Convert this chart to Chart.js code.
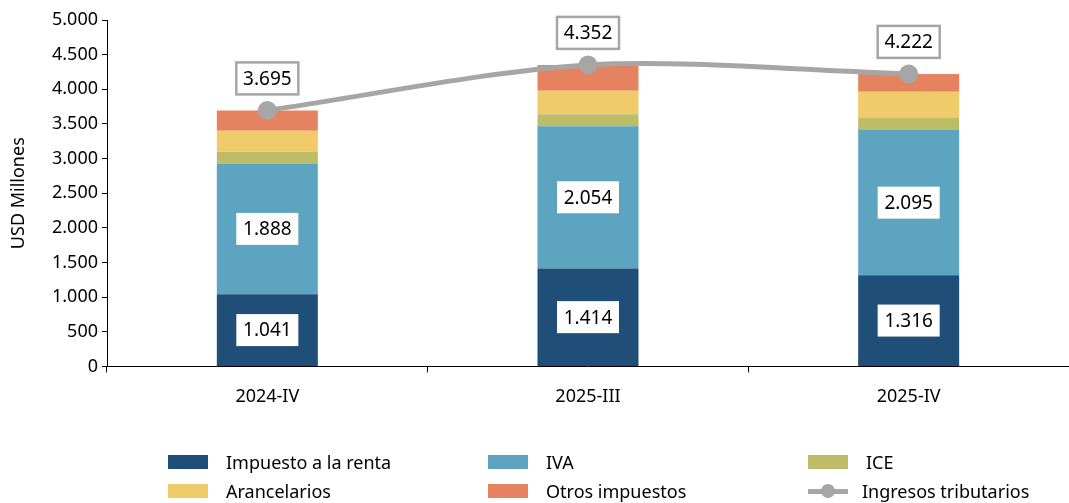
<!DOCTYPE html>
<html>
<head>
<meta charset="utf-8">
<script src="https://cdn.jsdelivr.net/npm/chart.js@4.4.1/dist/chart.umd.min.js"></script>
<style>
  body { margin: 0; background: #fff; }
  #wrap { position: relative; width: 1069px; height: 503px; }
  #legend { position: absolute; left: 0; top: 0; width: 1069px; height: 503px; pointer-events: none;
    font-family: "Noto Sans", sans-serif; font-size: 18px; color: #000; }
  .item { position: absolute; display: flex; align-items: center; }
  .sw { width: 40px; height: 14px; margin-right: 18px; }
  .ln { width: 40px; height: 5px; margin-right: 14px; position: relative; background: #A6A6A6; }
  .ln::after { content: ''; position: absolute; left: 13px; top: -5px; width: 14px; height: 14px; border-radius: 50%; background: #A6A6A6; }
</style>
</head>
<body>
<div id="wrap">
  <canvas id="grafico"></canvas>
  <div id="legend"></div>
</div>
<script>
const categorias = ['2024-IV', '2025-III', '2025-IV']
const renta = [1041, 1414, 1316]
const iva = [1888, 2054, 2095]
const ice = [168, 173, 173]
const arancelarios = [303, 337, 380]
const otros = [295, 374, 258]
const ingresos = [3695, 4352, 4222]
const yTicks = ['0', '500', '1.000', '1.500', '2.000', '2.500', '3.000', '3.500', '4.000', '4.500', '5.000']

const colores = {
  renta: '#1F4E79',
  iva: '#5DA4C1',
  ice: '#BDBD68',
  arancel: '#F0CB69',
  otros: '#E5825F',
  linea: '#A6A6A6'
}

function fmt(v) {
  return String(v).replace(/\B(?=(\d{3})+(?!\d))/g, '.')
}

// etiquetas en cajas blancas
const etiquetas = {
  id: 'etiquetas',
  afterDatasetsDraw(chart) {
    const c = chart.ctx
    c.save()
    c.font = '19px "Noto Sans", sans-serif'
    c.textAlign = 'center'
    c.textBaseline = 'middle'
    chart.data.datasets.forEach((ds, i) => {
      if (!ds.etiqueta) return
      const meta = chart.getDatasetMeta(i)
      meta.data.forEach((el, j) => {
        const txt = fmt(ds.data[j])
        let x = el.x, y
        if (ds.type === 'line') {
          y = el.y - 32
        } else {
          y = (el.y + el.base) / 2
        }
        const w = 62, h = 32
        c.fillStyle = '#fff'
        c.fillRect(x - w / 2, y - h / 2, w, h)
        if (ds.type === 'line') {
          c.strokeStyle = '#A6A6A6'
          c.lineWidth = 2.5
          c.strokeRect(x - w / 2, y - h / 2, w, h)
        }
        c.fillStyle = '#000'
        c.fillText(txt, x, y + 1)
      })
    })
    c.restore()
  }
}

Chart.defaults.font.family = '"Noto Sans", sans-serif'
Chart.defaults.font.size = 17
Chart.defaults.color = '#000'

const data = {
  labels: categorias,
  datasets: [
    { type: 'line', label: 'Ingresos tributarios', data: ingresos, stack: 'total', order: 0,
      borderColor: colores.linea, backgroundColor: colores.linea, borderWidth: 5,
      pointRadius: 7, pointHoverRadius: 7, tension: 0.3, fill: false, etiqueta: true },
    { type: 'bar', label: 'Impuesto a la renta', data: renta, backgroundColor: colores.renta, stack: 'barras', order: 1, etiqueta: true },
    { type: 'bar', label: 'IVA', data: iva, backgroundColor: colores.iva, stack: 'barras', order: 1, etiqueta: true },
    { type: 'bar', label: 'ICE', data: ice, backgroundColor: colores.ice, stack: 'barras', order: 1 },
    { type: 'bar', label: 'Arancelarios', data: arancelarios, backgroundColor: colores.arancel, stack: 'barras', order: 1 },
    { type: 'bar', label: 'Otros impuestos', data: otros, backgroundColor: colores.otros, stack: 'barras', order: 1 }
  ]
}

const config = {
  data,
  options: {
    responsive: false,
    animation: false,
    layout: { autoPadding: false, padding: { left: 8, right: 0, top: 20, bottom: 81 } },
    datasets: { bar: { barPercentage: 0.63, categoryPercentage: 0.5 } },
    plugins: { legend: { display: false }, tooltip: { enabled: false } },
    scales: {
      x: {
        stacked: true,
        grid: { display: true, drawOnChartArea: false, drawTicks: true, tickLength: 6, color: '#000', offset: true },
        border: { display: true, color: '#000', width: 1 },
        ticks: { padding: 14, font: { size: 18 } }
      },
      y: {
        stacked: true,
        min: 0,
        max: 5000,
        afterFit: s => { s.width = 99 },
        grid: { display: true, drawOnChartArea: false, drawTicks: true, tickLength: 5, color: '#000' },
        border: { display: true, color: '#000', width: 1 },
        ticks: { stepSize: 500, padding: 4, font: { size: 18 }, callback: (v, i) => yTicks[i] },
        title: { display: true, text: 'USD Millones', font: { size: 18 }, padding: 0 }
      }
    }
  },
  plugins: [etiquetas]
}

const cv = document.getElementById('grafico')
cv.width = 1069
cv.height = 503
const graph = new Chart(cv, config)

// leyenda en dos filas
const leyenda = [
  { t: 'Impuesto a la renta', c: colores.renta, x: 168, y: 462 },
  { t: 'IVA', c: colores.iva, x: 488, y: 462 },
  { t: 'ICE', c: colores.ice, x: 808, y: 462 },
  { t: 'Arancelarios', c: colores.arancel, x: 168, y: 491 },
  { t: 'Otros impuestos', c: colores.otros, x: 488, y: 491 },
  { t: 'Ingresos tributarios', linea: true, x: 808, y: 491 }
]
const lg = document.getElementById('legend')
leyenda.forEach(it => {
  const d = document.createElement('div')
  d.className = 'item'
  d.style.left = it.x + 'px'
  d.style.top = (it.y - 12) + 'px'
  d.style.height = '24px'
  const s = document.createElement('span')
  if (it.linea) { s.className = 'ln' } else { s.className = 'sw'; s.style.background = it.c }
  d.appendChild(s)
  d.appendChild(document.createTextNode(it.t))
  lg.appendChild(d)
})
</script>
</body>
</html>
